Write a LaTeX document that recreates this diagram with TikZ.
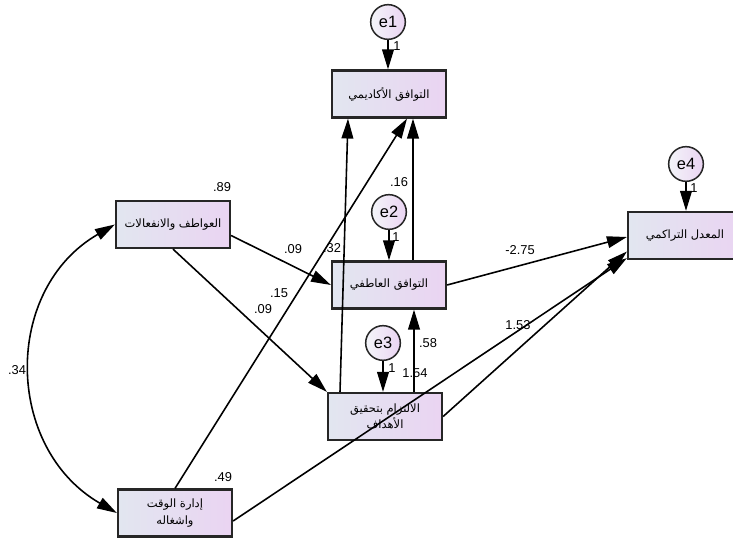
\documentclass[tikz,border=0pt]{standalone}
\usepackage{fontspec}
\setmainfont{Liberation Sans}
\newfontfamily\arabicfont[Script=Arabic]{DejaVu Sans}
\TeXXeTstate=1
\usepackage{tikz}
\usetikzlibrary{calc,shapes,arrows.meta}
\definecolor{boxleft}{RGB}{226,230,240}
\definecolor{boxright}{RGB}{234,212,242}

\begin{document}
\begin{tikzpicture}[x=0.03cm,y=-0.03cm,
    var/.style={draw=black!85,line width=1.9pt,left color=boxleft,right color=boxright,
        minimum width=3.42cm,minimum height=1.41cm,inner sep=1pt,align=center,
        font=\arabicfont\fontsize{9.8}{14}\selectfont},
    err/.style={circle,draw=black!85,line width=1.3pt,left color=boxleft!40!white,
        right color=boxright,minimum size=1.04cm,inner sep=0pt,font=\fontsize{14}{16}\selectfont},
    reg/.style={line width=1.35pt,-{Triangle[length=17pt,width=10pt]}},
    cov/.style={line width=1.35pt,{Triangle[length=17pt,width=10pt]}-{Triangle[length=17pt,width=10pt]}},
    est/.style={font=\fontsize{11}{13}\selectfont,inner sep=0pt}]
    \useasboundingbox (0,0) rectangle (733,540);
        % observed variables
        \node[var] (acad) at (389,94) {\beginR التوافق الأكاديمي\endR};
        \node[var] (emot) at (389,285) {\beginR التوافق العاطفي\endR};
        \node[var] (feel) at (173,224.5) {\beginR العواطف والانفعالات\endR};
        \node[var] (gpa) at (685,235.5) {\beginR المعدل التراكمي\endR};
        \node[var] (goal) at (385,416.5) {\beginR الالتزام بتحقيق\endR\\\beginR الأهداف\endR};
        \node[var] (time) at (175,513) {\beginR إدارة الوقت\endR\\\beginR واشغاله\endR};
        % error terms
        \foreach \n/\x/\y in {1/388/22, 2/389/212, 3/383/343, 4/686/164}
        \node[err] (e\n) at (\x,\y) {e\n};
        \foreach \n/\t in {1/acad, 2/emot, 3/goal, 4/gpa}
        \draw[reg] (e\n.south) -- (e\n.south |- \t.north);
        \foreach \x/\y [count=\i] in {397/46, 396/237, 392/368, 694/188}
        \node[est] (one\i) at (\x,\y) {1};
        % paths
        \draw[reg] ($(feel.east)+(0,11)$) -- (emot.west);
        \draw[reg] (feel.south) -- (goal.north west);
        \draw[reg] (time.north) -- ($(acad.south)+(18,0)$);
        \draw[reg] ($(time.east)+(0,8)$) -- ($(gpa.south west)+(0,-2)$);
        \draw[reg] ($(goal.north)+(-45,0)$) -- ($(acad.south)+(-41,0)$);
        \draw[reg] ($(emot.north)+(24,0)$) -- ($(acad.south)+(24,0)$);
        \draw[reg] ($(goal.north)+(29,0)$) -- ($(emot.south)+(25,0)$);
        \draw[reg] (emot.east) -- ($(gpa.west)+(0,1.5)$);
        \draw[reg] (goal.east) -- ($(gpa.west)+(0,16)$);
        \draw[cov] (feel.west) to[out=210,in=150,looseness=1.15] (time.west);
        % estimates
        \node[est] (r89) at (222,187) {.89};
        \node[est] (r16) at (399,182) {.16};
        \node[est] (r49) at (223,477) {.49};
        \node[est] (c34) at (17,370) {.34};
        \node[est] (b09a) at (293,249) {.09};
        \node[est] (b09b) at (263,309) {.09};
        \node[est] (b15) at (279,293) {.15};
        \node[est] (b32) at (332,248) {.32};
        \node[est] (b58) at (428,343) {.58};
        \node[est] (b154) at (415,373) {1.54};
        \node[est] (b275) at (520,250) {-2.75};
        \node[est] (b153) at (518,325) {1.53};
    \end{tikzpicture}
\end{document}
